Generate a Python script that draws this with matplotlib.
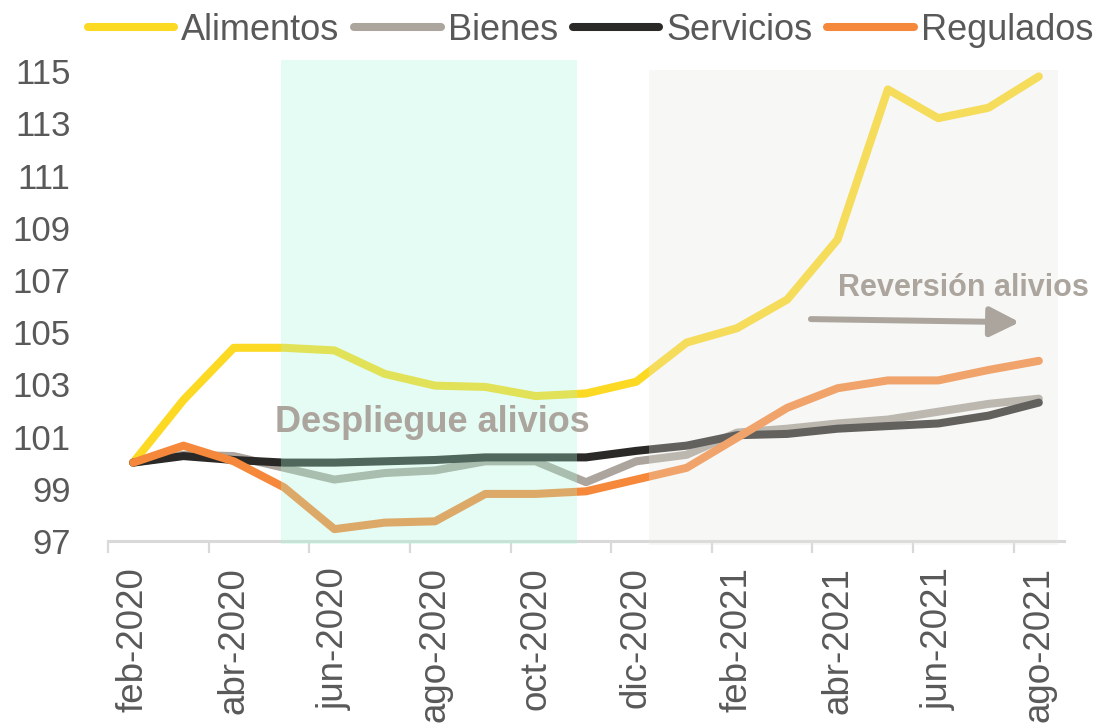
import numpy as np
import matplotlib
matplotlib.use("Agg")
import matplotlib.pyplot as plt
from matplotlib.lines import Line2D

plt.rcParams['font.family'] = ['Liberation Sans', 'DejaVu Sans']

# Data (index 100 = feb-2020), monthly feb-2020 .. ago-2021
meses = ['feb-2020', 'mar-2020', 'abr-2020', 'may-2020', 'jun-2020', 'jul-2020',
         'ago-2020', 'sep-2020', 'oct-2020', 'nov-2020', 'dic-2020', 'ene-2021',
         'feb-2021', 'mar-2021', 'abr-2021', 'may-2021', 'jun-2021', 'jul-2021',
         'ago-2021']
alimentos = [100.0, 102.4, 104.4, 104.4, 104.3, 103.4, 102.95, 102.9, 102.55, 102.65,
             103.1, 104.6, 105.15, 106.25, 108.55, 114.3, 113.2, 113.6, 114.8]
bienes = [100.0, 100.3, 100.25, 99.8, 99.35, 99.6, 99.7, 100.05, 100.05, 99.25,
          100.05, 100.3, 101.15, 101.3, 101.5, 101.65, 101.95, 102.25, 102.45]
servicios = [100.0, 100.25, 100.1, 100.0, 100.0, 100.05, 100.1, 100.2, 100.2, 100.2,
             100.45, 100.65, 101.05, 101.1, 101.3, 101.4, 101.5, 101.8, 102.3]
regulados = [100.0, 100.65, 100.05, 99.05, 97.45, 97.7, 97.75, 98.8, 98.8, 98.9,
             99.35, 99.8, 100.95, 102.1, 102.85, 103.15, 103.15, 103.55, 103.9]

series = ['Alimentos', 'Bienes', 'Servicios', 'Regulados']
colores = ['#FCD922', '#ABA59D', '#2A2927', '#F5883A']
yticks = [97, 99, 101, 103, 105, 107, 109, 111, 113, 115]

x = np.arange(len(meses))
gris_txt = '#595959'

fig = plt.figure(figsize=(11.02, 7.27), dpi=100)
ax = fig.add_axes([0.098, 0.256, 0.8675, 0.664])

lw = 5.8
for vals, col in zip([alimentos, bienes, servicios, regulados], colores):
    ax.plot(x, vals, color=col, lw=lw, solid_capstyle='round',
            solid_joinstyle='round', zorder=2)

# shaded periods (drawn on top of the lines, semi-transparent)
ax.fill_between([2.94, 8.83], 96.88, 115.43, color='#A7F8D8', alpha=0.3,
                lw=0, zorder=3, clip_on=False)
ax.fill_between([10.26, 18.39], 96.85, 115.05, color='#E5E5DF', alpha=0.3,
                lw=0, zorder=3, clip_on=False)

ax.text(5.95, 101.55, 'Despliegue alivios', fontsize=26, fontweight='bold',
        color='#ABA59D', ha='center', va='center', zorder=4)
ax.text(19.0, 106.7, 'Reversión alivios', fontsize=22, fontweight='bold',
        color='#ABA59D', ha='right', va='center', zorder=4)
ax.annotate('', xy=(17.62, 105.38), xytext=(13.47, 105.5),
            arrowprops=dict(arrowstyle='-|>,head_length=0.6,head_width=0.3',
                            mutation_scale=30, lw=4.3, color='#ABA59D',
                            shrinkA=0, shrinkB=0),
            zorder=4)

ax.set_xlim(-0.5, 18.5)
ax.set_ylim(97, 115.5)
ax.set_yticks(yticks)
ax.set_yticklabels([str(v) for v in yticks])
ax.set_xticks(x[::2])
ax.set_xticklabels(meses[::2], rotation=90, va='top')
ax.set_xticks(np.arange(-0.5, 18, 2), minor=True)

ax.tick_params(axis='x', which='major', length=0, pad=19, labelsize=26.5,
               labelcolor=gris_txt)
ax.tick_params(axis='x', which='minor', length=8.6, width=1.6, color='#D9D9D9')
ax.tick_params(axis='y', length=0, pad=27, labelsize=25, labelcolor=gris_txt)

for s in ['top', 'right', 'left']:
    ax.spines[s].set_visible(False)
ax.spines['bottom'].set_color('#D9D9D9')
ax.spines['bottom'].set_linewidth(2.2)

handles = [Line2D([0], [0], color=c, lw=lw, solid_capstyle='round') for c in colores]
fig.legend(handles, series, loc='upper right', bbox_to_anchor=(0.997, 0.99),
           ncol=4, frameon=False, fontsize=26, labelcolor=gris_txt,
           handlelength=2.4, handletextpad=0.2, columnspacing=0.4,
           borderaxespad=0.05, borderpad=0.1)

fig.savefig('out.png', dpi=100)
